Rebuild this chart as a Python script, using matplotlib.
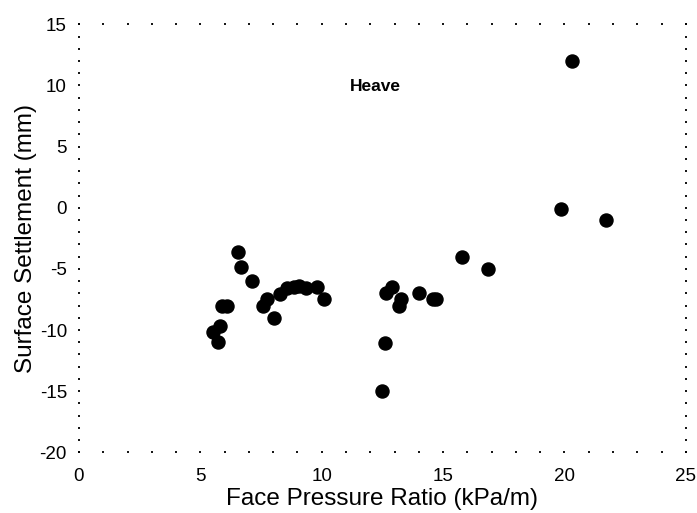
import matplotlib
matplotlib.use("Agg")
import matplotlib.pyplot as plt
from matplotlib.ticker import MultipleLocator

plt.rcParams['axes.unicode_minus'] = False

# Face pressure ratio (kPa/m) vs surface settlement (mm)
pressure = [5.53, 5.74, 5.81, 5.90, 6.10, 6.56, 6.66, 7.13, 7.57, 7.76,
            8.04, 8.28, 8.55, 8.85, 9.05, 9.35, 9.79, 10.10,
            12.49, 12.60, 12.64, 12.88, 13.19, 13.25, 13.99, 14.60, 14.72,
            15.76, 16.86, 19.85, 20.29, 21.73]
settlement = [-10.2, -11.0, -9.7, -8.0, -8.0, -3.65, -4.85, -6.0, -8.05, -7.5,
              -9.0, -7.05, -6.6, -6.45, -6.4, -6.6, -6.5, -7.5,
              -15.0, -11.05, -7.0, -6.45, -8.05, -7.5, -7.0, -7.5, -7.5,
              -4.0, -5.0, -0.1, 12.0, -1.0]

fig = plt.figure(figsize=(6.97, 5.13), dpi=100)
ax = fig.add_axes([0.1133, 0.1183, 0.8707, 0.8343])

ax.plot(pressure, settlement, 'o', color='black', markersize=9.4, linestyle='none')

ax.set_xlim(0, 25)
ax.set_ylim(-20, 15)
ax.xaxis.set_major_locator(MultipleLocator(5))
ax.yaxis.set_major_locator(MultipleLocator(5))
ax.xaxis.set_minor_locator(MultipleLocator(1))
ax.yaxis.set_minor_locator(MultipleLocator(1))

# dotted frame: no spines, tiny ticks on every side
for s in ax.spines.values():
    s.set_visible(False)
ax.tick_params(which='both', direction='inout', length=1.3, width=1.3,
               color='black', top=True, right=True)
ax.tick_params(axis='x', which='major', pad=11, labelsize=13.5)
ax.tick_params(axis='y', which='major', pad=8, labelsize=13.5)

font = 'Liberation Sans'
for lbl in ax.get_xticklabels() + ax.get_yticklabels():
    lbl.set_family(font)

ax.set_xlabel("Face Pressure Ratio (kPa/m)", fontsize=17.5, family=font, labelpad=2)
ax.set_ylabel("Surface Settlement (mm)", fontsize=17.5, family=font, labelpad=2)

ax.text(11.15, 9.9, "Heave", fontsize=12.5, fontweight='bold', family=font,
        ha='left', va='center')

plt.savefig("out.png", dpi=100)
plt.close()
